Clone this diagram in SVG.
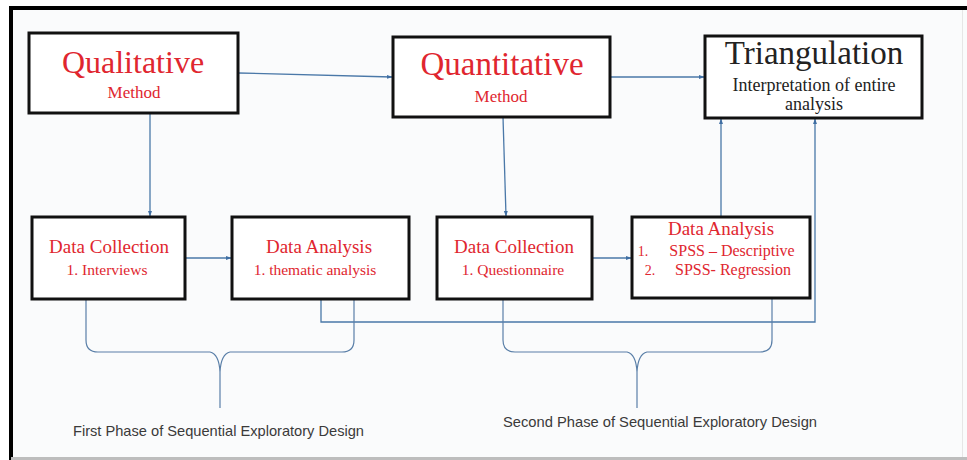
<svg xmlns="http://www.w3.org/2000/svg" width="967" height="460" viewBox="0 0 967 460">
<defs>
<marker id="arr" viewBox="0 0 10 10" refX="9" refY="5" markerWidth="6" markerHeight="6" orient="auto" markerUnits="userSpaceOnUse">
<path d="M0,1.5 L10,5 L0,8.5 Z" fill="#3f6ea3"/>
</marker>
<style>
.box{fill:#ffffff;stroke:#111111;stroke-width:3}
.ser{font-family:"Liberation Serif","DejaVu Serif",serif;text-anchor:middle}
.red{fill:#e0262f}
.blk{fill:#222222}
.con{fill:none;stroke:#4a78a8;stroke-width:1.3}
.brace{fill:none;stroke:#5a7fa8;stroke-width:1.2}
.cap{font-family:"Liberation Sans",Arial,sans-serif;font-size:14.5px;fill:#3a3a3a}
</style>
</defs>
<rect x="0" y="0" width="967" height="460" fill="#ffffff"/>
<rect x="11" y="9" width="956" height="449" fill="#fafbfc"/>
<rect x="9" y="6" width="4" height="454" fill="#000000"/>
<rect x="9" y="6" width="958" height="4" fill="#000000"/>
<rect x="11" y="457" width="956" height="3" fill="#bdbdbd"/>
<rect x="962" y="10" width="1" height="447" fill="#e6e6e6"/>

<g id="connectors">
<path class="con" d="M238,73 L392,77" marker-end="url(#arr)"/>
<path class="con" d="M610,77 L704,77" marker-end="url(#arr)"/>
<path class="con" d="M150,113 L150,216" marker-end="url(#arr)"/>
<path class="con" d="M503,117 L506,216" marker-end="url(#arr)"/>
<path class="con" d="M185,258 L231,258" marker-end="url(#arr)"/>
<path class="con" d="M592,258 L631,258" marker-end="url(#arr)"/>
<path class="con" d="M721,217 L721,119" marker-end="url(#arr)"/>
<path class="con" d="M321,299 L321,322 L815,322 L815,119" marker-end="url(#arr)"/>
</g>

<g id="brace1">
<path class="brace" d="M86,299 L86,340 Q86,352 98,352 L210,352 Q219,354 220,372 L220,408 M220,408 L220,372 Q221,354 230,352 L342,352 Q354,352 354,340 L354,299"/>
<text class="cap" x="73" y="436" textLength="291" lengthAdjust="spacingAndGlyphs">First Phase of Sequential Exploratory Design</text>
</g>

<g id="brace2">
<path class="brace" d="M503,299 L503,340 Q503,352 515,352 L627,352 Q636,354 637,372 L637,408 M637,408 L637,372 Q638,354 647,352 L760,352 Q772,352 772,340 L772,298"/>
<text class="cap" x="503" y="427" textLength="314" lengthAdjust="spacingAndGlyphs">Second Phase of Sequential Exploratory Design</text>
</g>

<g id="qualitative">
<rect class="box" x="29" y="33" width="209" height="80"/>
<text class="ser red" x="133" y="73" font-size="32">Qualitative</text>
<text class="ser red" x="134" y="98" font-size="17">Method</text>
</g>

<g id="quantitative">
<rect class="box" x="393" y="37" width="217" height="80"/>
<text class="ser red" x="502" y="75" font-size="33">Quantitative</text>
<text class="ser red" x="501" y="102" font-size="17">Method</text>
</g>

<g id="triangulation">
<rect class="box" x="705" y="36" width="217" height="82"/>
<text class="ser blk" x="814" y="64" font-size="33">Triangulation</text>
<text class="ser blk" x="814" y="91" font-size="18">Interpretation of entire</text>
<text class="ser blk" x="814" y="110" font-size="18">analysis</text>
</g>

<g id="collection1">
<rect class="box" x="32" y="217" width="153" height="82"/>
<text class="ser red" x="109" y="253" font-size="19">Data Collection</text>
<text class="ser red" x="107" y="275" font-size="15.5">1. Interviews</text>
</g>

<g id="analysis1">
<rect class="box" x="232" y="217" width="177" height="82"/>
<text class="ser red" x="319" y="253" font-size="19">Data Analysis</text>
<text class="ser red" x="315" y="275" font-size="15.5">1. thematic analysis</text>
</g>

<g id="collection2">
<rect class="box" x="437" y="217" width="155" height="82"/>
<text class="ser red" x="514" y="253" font-size="19">Data Collection</text>
<text class="ser red" x="513" y="275" font-size="15.5">1. Questionnaire</text>
</g>

<g id="analysis2">
<rect class="box" x="632" y="217" width="178" height="81"/>
<text class="ser red" x="721" y="235" font-size="19">Data Analysis</text>
<text class="ser red" x="643" y="256" font-size="14" text-anchor="start">1.</text>
<text class="ser red" x="732" y="256" font-size="16">SPSS – Descriptive</text>
<text class="ser red" x="650" y="275" font-size="14" text-anchor="start">2.</text>
<text class="ser red" x="733" y="275" font-size="16">SPSS- Regression</text>
</g>
</svg>
